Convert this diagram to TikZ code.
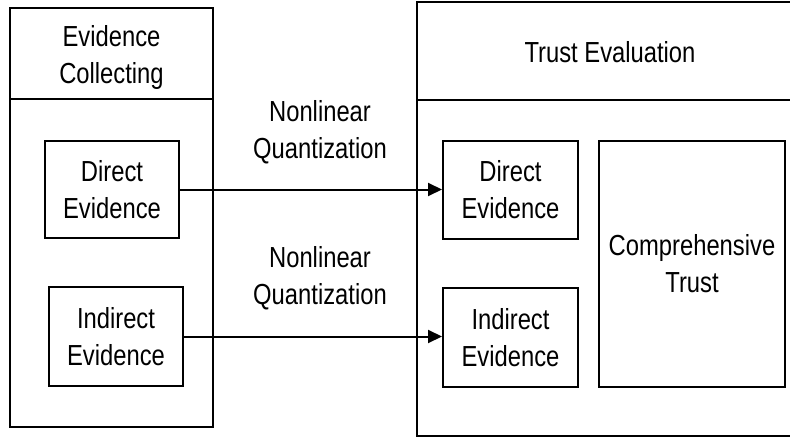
\documentclass[tikz,border=0pt]{standalone}
\usepackage{fontspec}
\setmainfont{Liberation Sans}[FakeStretch=0.82]
\usetikzlibrary{arrows.meta}
\tikzset{
  box/.style={draw, line width=2pt, inner sep=0pt, align=center,
    font=\fontsize{29}{37}\selectfont},
  lbl/.style={inner sep=0pt, align=center, font=\fontsize{29}{37}\selectfont},
  conn/.style={line width=2pt, -{Triangle[length=14pt,width=13pt]}},
  divider/.style={line width=2pt}
}
\begin{document}
\begin{tikzpicture}[x=1pt,y=-1pt]
\useasboundingbox (0,0) rectangle (790,439);
% left outer
\node[box, minimum width=203pt, minimum height=419pt] (L) at (111.5,217.5) {};
\coordinate (Ld1) at (10,99);
\coordinate (Ld2) at (213,99);
\draw[divider] (Ld1) -- (Ld2);
\node[lbl] (Lt) at (111.5,58) {Evidence\\Collecting};
\node[box, minimum width=134pt, minimum height=97pt] (ld) at (112,189.5) {Direct\\Evidence};
\node[box, minimum width=134pt, minimum height=99pt] (li) at (116,336.5) {Indirect\\Evidence};
% right outer
\node[box, minimum width=386pt, minimum height=434pt] (R) at (610,219) {};
\coordinate (Rd1) at (417,100);
\coordinate (Rd2) at (803,100);
\draw[divider] (Rd1) -- (Rd2);
\node[lbl] (Rt) at (610,52) {Trust Evaluation};
\node[box, minimum width=135pt, minimum height=98pt] (rd) at (510.5,190) {Direct\\Evidence};
\node[box, minimum width=135pt, minimum height=99pt] (ri) at (510.5,337.5) {Indirect\\Evidence};
\node[box, minimum width=186pt, minimum height=246pt] (ct) at (692,264) {Comprehensive\\Trust};
% connectors
\draw[conn] (ld.east) -- (ld.east -| rd.west);
\draw[conn] (li.east) -- (li.east -| ri.west);
\node[lbl] (q1) at (320,132) {Nonlinear\\Quantization};
\node[lbl] (q2) at (320,278) {Nonlinear\\Quantization};
\end{tikzpicture}
\end{document}
